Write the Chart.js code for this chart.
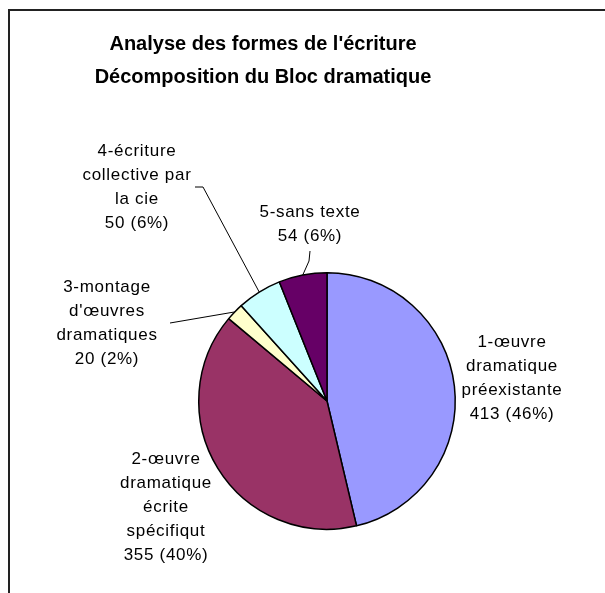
<!DOCTYPE html>
<html>
<head>
<meta charset="utf-8">
<script src="https://cdn.jsdelivr.net/npm/chart.js@4"></script>
<style>
  body { margin: 0; background: #fff; }
  #wrap { position: relative; width: 605px; height: 593px; }
  #frame { position: absolute; left: 8px; top: 9px; width: 620px; height: 600px;
           border-left: 2px solid #222; border-top: 2px solid #222; }
  canvas { position: absolute; left: 0; top: 0; }
</style>
</head>
<body>
<div id="wrap">
  <div id="frame"></div>
  <canvas id="pieChart" width="605" height="593"></canvas>
</div>
<script>
var titleLines = ["Analyse des formes de l'écriture", 'Décomposition du Bloc dramatique'];
var categories = ['1-œuvre dramatique préexistante', '2-œuvre dramatique écrite spécifiqut',
    "3-montage d'œuvres dramatiques", '4-écriture collective par la cie', '5-sans texte'];
var labelLines = [
    ['1-œuvre', 'dramatique', 'préexistante'],
    ['2-œuvre', 'dramatique', 'écrite', 'spécifiqut'],
    ['3-montage', "d'œuvres", 'dramatiques'],
    ['4-écriture', 'collective par', 'la cie'],
    ['5-sans texte']
];
var values = [413, 355, 20, 50, 54];
var colors = ['#9999FF', '#993366', '#FFFFCC', '#CCFFFF', '#660066'];

// label block centres, relative to the pie centre
var labelOffsets = [[185, -23], [-161, 106], [-220, -78], [-190, -214], [-17, -177]];
// leader line start / knee, relative to the label centre (null = no leader)
var leaders = [null, null, [[63, 0]], [[58, 0], [66, 0]], [[0, 27], [-1, 37]]];

var total = values.reduce(function (a, b) { return a + b; }, 0);

var labelPlugin = {
    id: 'excelLabels',
    afterDraw: function (chart) {
        var ctx = chart.ctx;
        ctx.save();
        ctx.fillStyle = '#000';
        ctx.textAlign = 'center';

        // title
        ctx.font = 'bold 20px "Liberation Sans", Arial, sans-serif';
        ctx.textBaseline = 'alphabetic';
        ctx.fillText(titleLines[0], 263, 50);
        ctx.fillText(titleLines[1], 263, 83);

        ctx.font = '17px "Liberation Sans", Arial, sans-serif';
        ctx.letterSpacing = '0.7px';
        ctx.textBaseline = 'middle';
        ctx.strokeStyle = '#000';
        ctx.lineWidth = 1;
        var arcs = chart.getDatasetMeta(0).data;
        arcs.forEach(function (arc, i) {
            var p = arc.getProps(['x', 'y', 'startAngle', 'endAngle', 'outerRadius'], true);
            var lines = labelLines[i].concat([values[i] + ' (' + Math.round(values[i] / total * 100) + '%)']);
            var cx = p.x + labelOffsets[i][0];
            var cy = p.y + labelOffsets[i][1];
            var lh = 24;
            var y0 = cy - (lines.length - 1) * lh / 2;
            lines.forEach(function (t, k) {
                ctx.fillText(t, cx, y0 + k * lh);
            });
            if (leaders[i]) {
                var mid = (p.startAngle + p.endAngle) / 2;
                ctx.beginPath();
                leaders[i].forEach(function (pt, k) {
                    if (k === 0) ctx.moveTo(cx + pt[0], cy + pt[1]);
                    else ctx.lineTo(cx + pt[0], cy + pt[1]);
                });
                ctx.lineTo(p.x + Math.cos(mid) * p.outerRadius, p.y + Math.sin(mid) * p.outerRadius);
                ctx.stroke();
            }
        });
        ctx.restore();
    }
};

var pieChart = new Chart(document.getElementById('pieChart'), {
    type: 'pie',
    data: {
        labels: categories,
        datasets: [{
            data: values,
            backgroundColor: colors,
            borderColor: '#000',
            borderWidth: 1.5
        }]
    },
    options: {
        responsive: false,
        animation: false,
        layout: { padding: { left: 198, right: 149, top: 272, bottom: 63 } },
        plugins: {
            legend: { display: false },
            tooltip: { enabled: false },
            title: { display: false }
        }
    },
    plugins: [labelPlugin]
});
</script>
</body>
</html>
